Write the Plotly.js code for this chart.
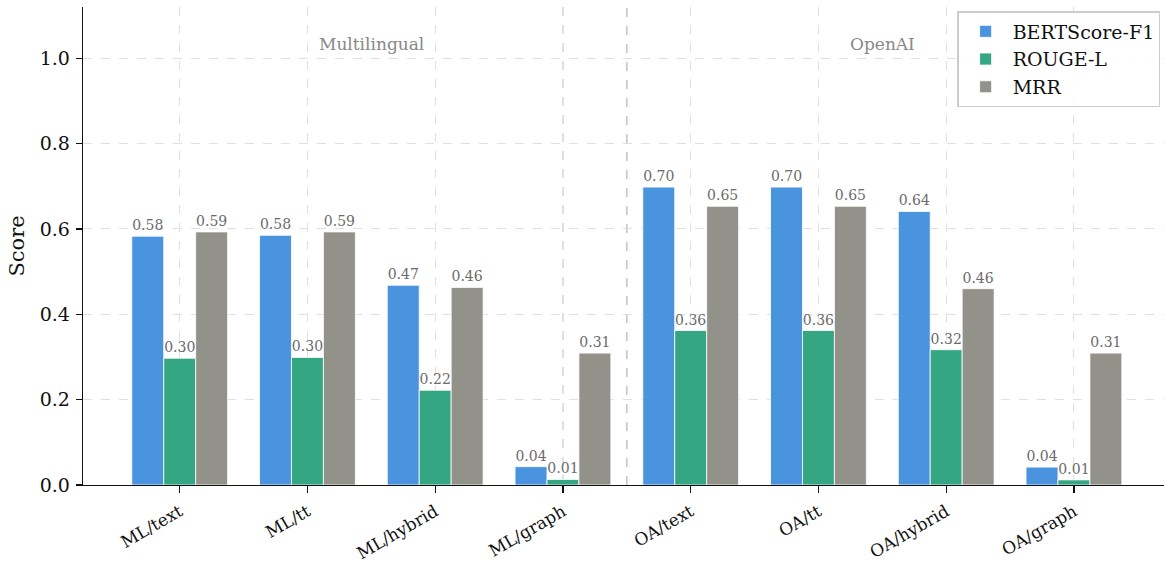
<!DOCTYPE html>
<html>
<head>
<meta charset="utf-8">
<script src="https://cdn.plot.ly/plotly-3.0.1.min.js"></script>
<style>html,body{margin:0;padding:0;background:#fff;}#chart{width:1164px;height:562px;}</style>
</head>
<body>
<div id="chart"></div>
<script>
const categories = ["ML/text", "ML/tt", "ML/hybrid", "ML/graph", "OA/text", "OA/tt", "OA/hybrid", "OA/graph"];
const bertscoreF1 = [0.583, 0.585, 0.468, 0.043, 0.698, 0.698, 0.641, 0.042];
const rougeL = [0.297, 0.299, 0.222, 0.013, 0.362, 0.362, 0.317, 0.012];
const mrr = [0.593, 0.593, 0.463, 0.309, 0.653, 0.653, 0.460, 0.309];
const groupLabels = ["Multilingual", "OpenAI"];

const FONT = "DejaVu Serif, serif";
function barTrace(name, vals, color) {
  return {
    type: "bar", name: name, x: categories, y: vals,
    marker: {color: color, line: {color: "#ffffff", width: 0.8}},
    texttemplate: "%{y:.2f}", textposition: "outside", cliponaxis: false,
    textfont: {family: FONT, size: 14, color: "#6b6b6b"},
    hoverinfo: "x+y+name"
  };
}
const data = [
  barTrace("BERTScore-F1", bertscoreF1, "#4a93df"),
  barTrace("ROUGE-L", rougeL, "#34a682"),
  barTrace("MRR", mrr, "#93928a")
];
const layout = {
  width: 1164, height: 562,
  margin: {l: 83, r: 0, t: 7, b: 77, pad: 0},
  paper_bgcolor: "#ffffff", plot_bgcolor: "#ffffff",
  font: {family: FONT, color: "#111"},
  barmode: "group", bargap: 0.25, bargroupgap: 0,
  xaxis: {
    type: "category", range: [-0.757, 7.705],
    showline: true, linecolor: "#111", linewidth: 1.3,
    ticks: "outside", ticklen: 7, tickwidth: 1.2, tickcolor: "#111",
    tickangle: -30, tickfont: {family: FONT, size: 17, color: "#111"},
    ticklabelstandoff: 2,
    showgrid: true, gridcolor: "#e0e0e0", griddash: "dash", gridwidth: 1.1,
    zeroline: false, mirror: false
  },
  yaxis: {
    range: [0, 1.12], dtick: 0.2, tickformat: ".1f",
    showline: true, linecolor: "#111", linewidth: 1.3,
    ticks: "outside", ticklen: 6, tickwidth: 1.2, tickcolor: "#111",
    tickfont: {family: FONT, size: 19, color: "#111"},
    ticklabelstandoff: 2,
    showgrid: true, gridcolor: "#e0e0e0", griddash: "dash", gridwidth: 1.1,
    zeroline: false,
    title: {text: "Score", font: {family: FONT, size: 21, color: "#111"}, standoff: 9}
  },
  legend: {
    x: 0.9967, y: 0.991, xanchor: "right", yanchor: "top",
    bgcolor: "rgba(255,255,255,0.9)", bordercolor: "#cccccc", borderwidth: 1.2,
    font: {family: FONT, size: 19, color: "#111"},
    itemwidth: 44, tracegroupgap: 0
  },
  shapes: [{
    type: "line", xref: "x", yref: "paper", x0: 3.5, x1: 3.5, y0: 0, y1: 1,
    line: {color: "#c4c4c4", width: 1.5, dash: "dash"}, layer: "below"
  }],
  annotations: [
    {x: 1.5, y: 1.033, xref: "x", yref: "y", text: groupLabels[0], showarrow: false,
     font: {family: FONT, size: 17, color: "#888888"}},
    {x: 5.5, y: 1.033, xref: "x", yref: "y", text: groupLabels[1], showarrow: false,
     font: {family: FONT, size: 17, color: "#888888"}}
  ]
};
Plotly.newPlot("chart", data, layout, {displayModeBar: false, staticPlot: true});
</script>
</body>
</html>
